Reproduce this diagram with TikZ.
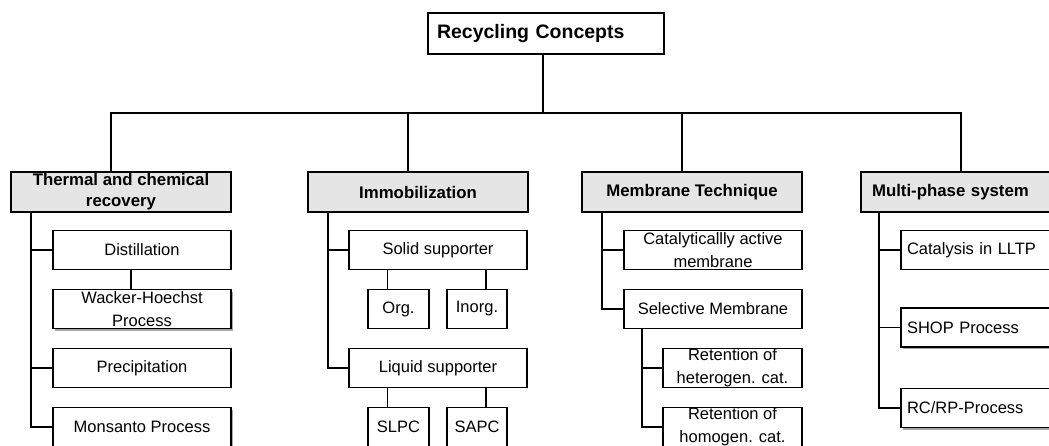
\documentclass[tikz,border=0pt]{standalone}
\usepackage{fontspec}
\setmainfont{Liberation Sans}
\usetikzlibrary{positioning}
\usetikzlibrary{shadows}
\tikzset{box/.style = {draw, fill = white, inner sep = 0, minimum width = 178pt, minimum height = 39pt, align = center, font = \fontsize{16.5}{23}\selectfont}}
\tikzset{hdr/.style = {box, fill = black!10, minimum width = 220pt, minimum height = 40pt, font = \fontsize{16.8}{21}\selectfont\bfseries}}
\tikzset{ttl/.style = {box, align = left, inner xsep = 9pt, text width = 218pt, minimum height = 41pt, font = \fontsize{19.5}{23}\selectfont\bfseries}}
\tikzset{lft/.style = {align = left, inner xsep = 6pt, text width = 166pt}}
\tikzset{shd/.style = {drop shadow = {shadow xshift = 2pt, shadow yshift = -2pt, fill = black!35, opacity = 1}}}

\begin{document}
\begin{tikzpicture}[x = 1pt, y = -1pt, line width = 1.7pt]
      \useasboundingbox (0, 0) rectangle (1049, 445);
      \node [ttl] (top) at (546, 33.5) {Recycling Concepts};

      \node [hdr] (th) at (121, 192) {Thermal and chemical\\recovery};
      \node [hdr] (im) at (418, 192) {Immobilization};
      \node [hdr] (mb) at (692, 192) {Membrane Technique};
      \node [hdr, lft, inner xsep = 11pt, text width = 198pt] (mp) at (971, 192) {Multi-phase system};

      \draw ([xshift = -3pt]top.south) -- ++(0, 58) coordinate (bus);
      \foreach \n in {th, im, mb, mp} {
        \draw ([xshift = -10pt]\n.north) |- (bus);
      }

      \node [box] (dist) at (142, 250) {Distillation};
      \node [box, shd] (wack) at (142, 309) {Wacker-Hoechst\\Process};
      \node [box] (prec) at (142, 368) {Precipitation};
      \node [box, shd] (mons) at (142, 427) {Monsanto Process};
      \foreach \n in {dist, prec, mons} {
        \draw ([xshift = 21pt]th.south west) |- (\n.west);
      }
      \draw ([xshift = -11pt]dist.south) -- ([xshift = -11pt]wack.north);

      \node [box] (solid) at (438, 250) {Solid supporter};
      \node [box, minimum width = 61pt] (org) at (398.5, 309) {Org.};
      \node [box, minimum width = 60pt] (inorg) at (477, 309) {Inorg.};
      \node [box] (liquid) at (438, 368) {Liquid supporter};
      \node [box, minimum width = 61pt] (slpc) at (398.5, 427) {SLPC};
      \node [box, minimum width = 60pt] (sapc) at (477, 427) {SAPC};
      \foreach \n in {solid, liquid} {
        \draw ([xshift = 21pt]im.south west) |- (\n.west);
      }
      \draw ([xshift = -11pt]org.north) -- ([xshift = -11pt]org.north |- solid.south);
      \draw ([xshift = 9pt]inorg.north) -- ([xshift = 9pt]inorg.north |- solid.south);
      \draw ([xshift = -11pt]slpc.north) -- ([xshift = -11pt]slpc.north |- liquid.south);
      \draw ([xshift = 9pt]sapc.north) -- ([xshift = 9pt]sapc.north |- liquid.south);

      \node [box] (cat) at (713, 250) {Catalyticallly active\\membrane};
      \node [box] (sel) at (713, 309) {Selective Membrane};
      \node [box, minimum width = 139pt] (rhet) at (732.5, 368) {Retention of\\heterogen. cat.};
      \node [box, minimum width = 139pt] (rhom) at (732.5, 427) {Retention of\\homogen. cat.};
      \foreach \n in {cat, sel} {
        \draw ([xshift = 21pt]mb.south west) |- (\n.west);
      }
      \foreach \n in {rhet, rhom} {
        \draw ([xshift = 19pt]sel.south west) |- (\n.west);
      }

      \node [box, lft] (lltp) at (990, 250) {Catalysis in LLTP};
      \node [box, lft, shd] (shop) at (990, 327.5) {SHOP Process};
      \node [box, lft, shd] (rcrp) at (990, 408) {RC/RP-Process};
      \foreach \n in {lltp, shop, rcrp} {
        \draw ([xshift = 19pt]mp.south west) |- (\n.west);
      }
    \end{tikzpicture}
\end{document}
